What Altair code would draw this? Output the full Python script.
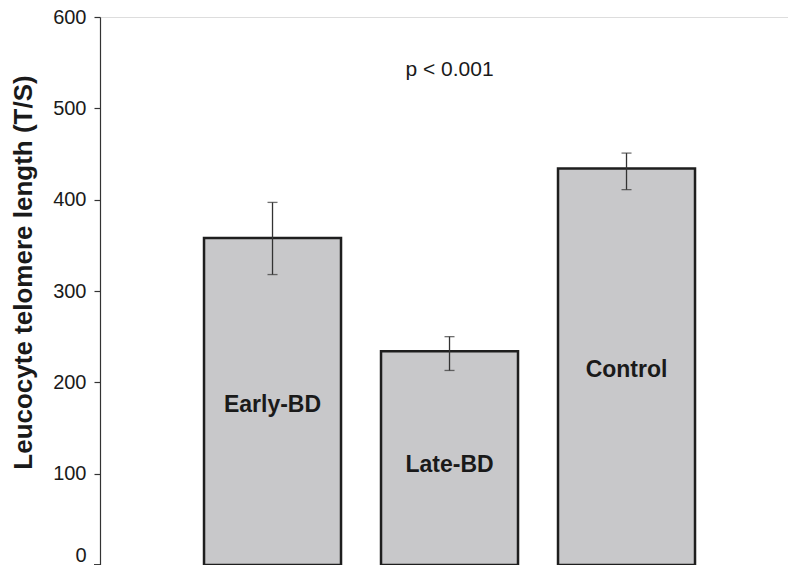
import altair as alt
import pandas as pd

groups = ["Early-BD", "Late-BD", "Control"]
means = [358, 234, 434]
err_low = [318, 213, 411]
err_high = [397, 250, 451]
label_pos = [168, 102, 206]
y_ticks = [0, 100, 200, 300, 400, 500, 600]
annot_text = "p < 0.001"
annot_group = "Late-BD"
annot_y = 535

df = pd.DataFrame({"group": groups, "mean": means, "lo": err_low, "hi": err_high, "ly": label_pos})
ann = pd.DataFrame({"group": [annot_group], "y": [annot_y], "t": [annot_text]})

W, H = 688, 548
FONT = "Liberation Sans"

xscale = alt.Scale(domain=groups, paddingInner=0.226, paddingOuter=0.5565, align=0.528)
yscale = alt.Scale(domain=[0, 600], nice=False)

xenc = alt.X("group:N", scale=xscale, sort=groups,
             axis=alt.Axis(title=None, labels=False, ticks=False, domain=True,
                           domainColor="#333333", domainWidth=1.2))

bars = alt.Chart(df).mark_bar(fill="#c8c8ca", stroke="#1e1e1e", strokeWidth=2.5).encode(
    x=xenc,
    y=alt.Y("mean:Q", scale=yscale,
            axis=alt.Axis(values=y_ticks, title="Leucocyte telomere length (T/S)",
                          titleFont=FONT, titleFontSize=26, titleFontWeight="bold",
                          titleColor="#1a1a1a", titleAngle=270, titleX=-77, titleY=255,
                          titleAlign="center", titleBaseline="middle",
                          labelFont=FONT, labelFontSize=20, labelColor="#1a1a1a",
                          labelBaseline={"condition": {"test": "datum.value === 0", "value": "bottom"},
                                         "value": "middle"},
                          labelPadding=8, tickSize=6, tickColor="#333333", tickWidth=1.2,
                          domainColor="#333333", domainWidth=1.2, grid=False)),
)

errs = alt.Chart(df).mark_rule(color="#333333", strokeWidth=1.3).encode(
    x=alt.X("group:N", scale=xscale, sort=groups),
    y=alt.Y("lo:Q", scale=yscale),
    y2="hi:Q",
)
caps_hi = alt.Chart(df).mark_tick(color="#333333", thickness=1.3, size=10, orient="horizontal").encode(
    x=alt.X("group:N", scale=xscale, sort=groups),
    y=alt.Y("hi:Q", scale=yscale),
)
caps_lo = alt.Chart(df).mark_tick(color="#333333", thickness=1.3, size=10, orient="horizontal").encode(
    x=alt.X("group:N", scale=xscale, sort=groups),
    y=alt.Y("lo:Q", scale=yscale),
)

labels = alt.Chart(df).mark_text(font=FONT, fontSize=23, fontWeight="bold", color="#1a1a1a",
                                 align="center", baseline="alphabetic").encode(
    x=alt.X("group:N", scale=xscale, sort=groups),
    y=alt.Y("ly:Q", scale=yscale),
    text="group:N",
)

annot = alt.Chart(ann).mark_text(font=FONT, fontSize=21, color="#1a1a1a",
                                 align="center", baseline="alphabetic").encode(
    x=alt.X("group:N", scale=xscale, sort=groups),
    y=alt.Y("y:Q", scale=yscale),
    text="t:N",
)

stub = alt.Chart(df).mark_rule(color="#333333", strokeWidth=1.2).encode(
    x=alt.value(-6), x2=alt.value(0), y=alt.value(H))

chart = alt.layer(bars, errs, caps_hi, caps_lo, labels, annot, stub).properties(
    width=W, height=H,
    autosize=alt.AutoSizeParams(type="none"),
    padding={"left": 92, "top": 9, "right": 0, "bottom": 0},
).configure_view(stroke=None).configure(background="white")

chart.save("out.html", embed_options={"renderer": "svg", "actions": False})
